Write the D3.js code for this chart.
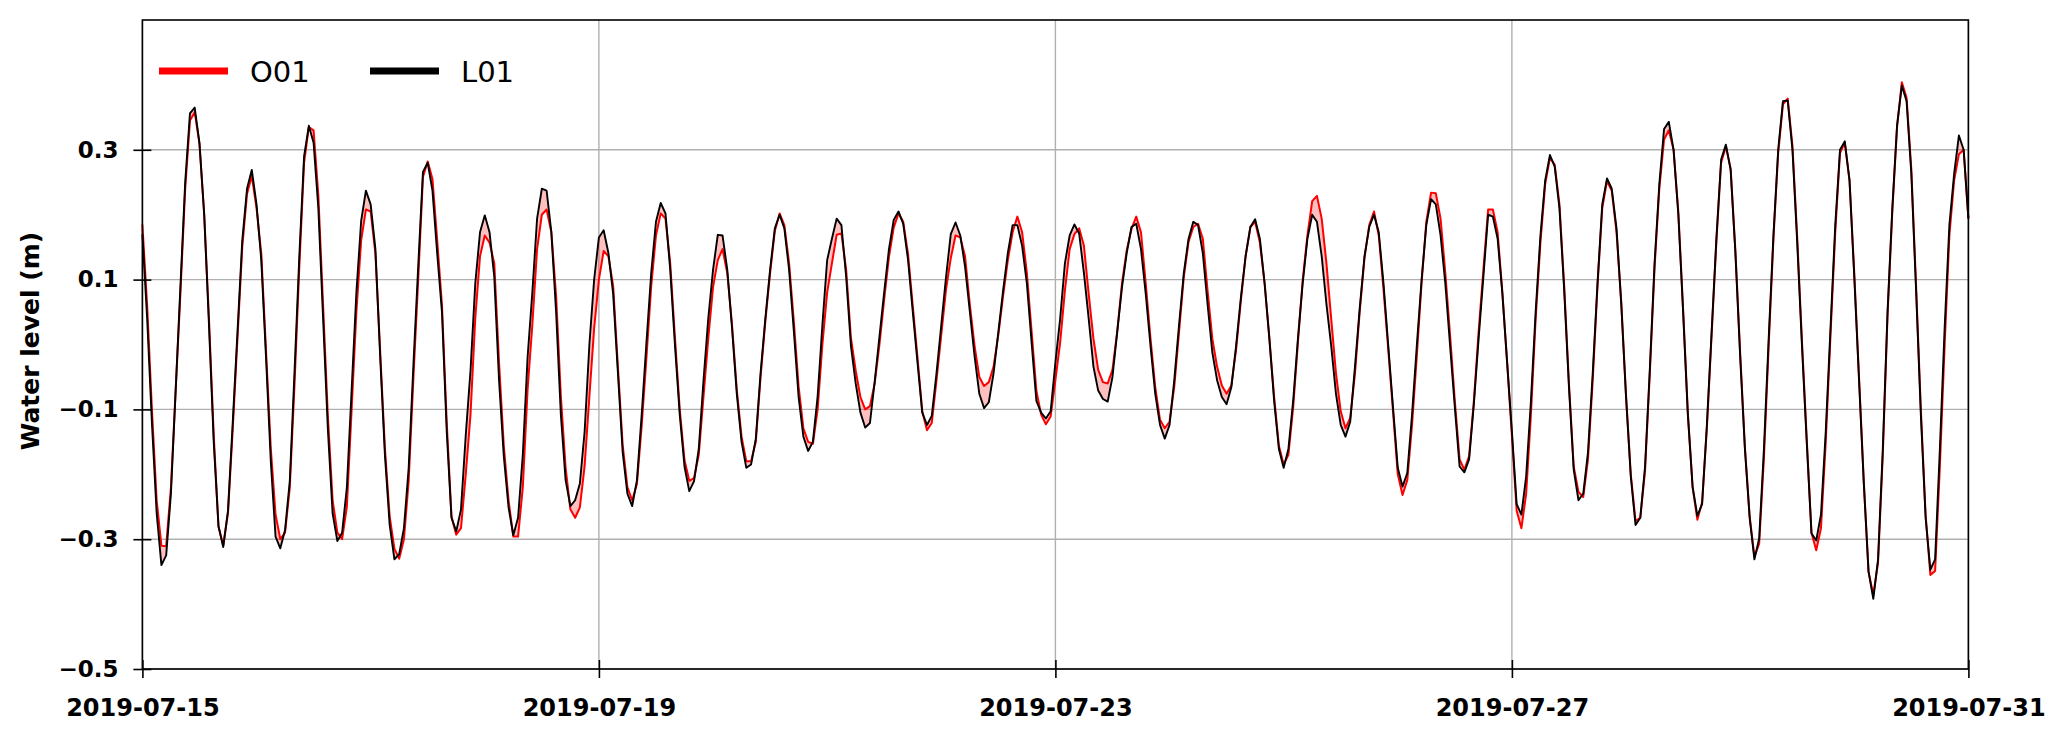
<!DOCTYPE html>
<html>
<head>
<meta charset="utf-8">
<script src="https://cdn.jsdelivr.net/npm/d3@7"></script>
<style>
  body { margin: 0; background: #fff; }
  svg { display: block; }
</style>
</head>
<body>
<svg id="chart"></svg>
<script>
const width = 2067;
const height = 738;
const margin = { top: 20, right: 98.6, bottom: 69, left: 142.4 };

// HOURLY SAMPLES FROM 2019-07-15 00:00 UTC
const startTime = Date.UTC(2019, 6, 15, 0);

const seriesNames = ['O01', 'L01'];
const seriesColors = ['#ff0000', '#000000'];

const o01 = [
  0.185,0.06,-0.10,-0.24,-0.31,-0.311,-0.22,-0.07,0.08,0.24,
  0.345,0.358,0.31,0.20,0.04,-0.14,-0.28,-0.31,-0.26,-0.13,
  0.01,0.15,0.232,0.26,0.21,0.14,-0.01,-0.16,-0.262,-0.30,
  -0.29,-0.22,-0.06,0.12,0.28,0.335,0.33,0.23,0.06,-0.11,
  -0.24,-0.29,-0.30,-0.25,-0.10,0.05,0.16,0.208,0.205,0.14,
  -0.01,-0.16,-0.265,-0.315,-0.33,-0.30,-0.21,-0.05,0.10,0.258,
  0.282,0.255,0.16,0.06,-0.12,-0.265,-0.293,-0.283,-0.20,-0.108,
  0.04,0.136,0.168,0.157,0.125,-0.028,-0.156,-0.24,-0.296,-0.296,
  -0.22,-0.07,0.03,0.147,0.20,0.208,0.173,0.075,-0.08,-0.19,
  -0.254,-0.267,-0.251,-0.187,-0.08,0.025,0.10,0.144,0.136,0.09,
  -0.035,-0.155,-0.22,-0.24,-0.215,-0.125,-0.02,0.09,0.168,0.202,
  0.194,0.125,0.01,-0.10,-0.178,-0.21,-0.206,-0.17,-0.08,0.009,
  0.088,0.13,0.147,0.11,0.03,-0.07,-0.142,-0.18,-0.18,-0.15,
  -0.05,0.035,0.11,0.175,0.202,0.184,0.125,0.035,-0.065,-0.129,
  -0.15,-0.153,-0.10,0.0,0.08,0.125,0.169,0.171,0.115,0.01,
  -0.04,-0.081,-0.10,-0.095,-0.06,0.0,0.07,0.135,0.18,0.202,
  0.189,0.14,0.06,-0.02,-0.103,-0.132,-0.121,-0.055,0.015,0.085,
  0.133,0.168,0.165,0.136,0.062,-0.002,-0.05,-0.064,-0.058,-0.034,
  0.015,0.075,0.13,0.173,0.197,0.173,0.11,0.02,-0.071,-0.108,
  -0.123,-0.111,-0.055,0.003,0.083,0.147,0.17,0.179,0.152,0.078,
  0.009,-0.039,-0.058,-0.06,-0.039,0.02,0.094,0.145,0.178,0.197,
  0.173,0.094,0.009,-0.066,-0.116,-0.129,-0.119,-0.065,0.019,0.104,
  0.158,0.181,0.186,0.163,0.083,0.009,-0.034,-0.063,-0.076,-0.063,
  -0.008,0.067,0.136,0.181,0.189,0.157,0.094,0.009,-0.081,-0.156,
  -0.185,-0.17,-0.097,0.003,0.099,0.168,0.221,0.229,0.194,0.125,
  0.04,-0.044,-0.103,-0.129,-0.113,-0.045,0.051,0.133,0.184,0.205,
  0.168,0.085,-0.008,-0.103,-0.2,-0.232,-0.209,-0.124,-0.018,0.094,
  0.189,0.234,0.233,0.194,0.11,0.014,-0.087,-0.177,-0.193,-0.172,
  -0.087,0.019,0.115,0.208,0.208,0.173,0.08,-0.028,-0.14,-0.256,
  -0.283,-0.23,-0.108,0.04,0.157,0.247,0.288,0.277,0.216,0.09,
  -0.06,-0.188,-0.227,-0.235,-0.177,-0.055,0.09,0.21,0.252,0.237,
  0.173,0.065,-0.078,-0.2,-0.272,-0.267,-0.195,-0.045,0.118,0.24,
  0.316,0.33,0.3,0.205,0.055,-0.105,-0.22,-0.27,-0.243,-0.13,
  0.015,0.158,0.28,0.305,0.271,0.145,-0.012,-0.158,-0.265,-0.327,
  -0.307,-0.175,-0.002,0.163,0.295,0.37,0.379,0.306,0.165,0.005,
  -0.145,-0.29,-0.317,-0.283,-0.15,0.014,0.173,0.295,0.311,0.253,
  0.11,-0.05,-0.21,-0.35,-0.386,-0.336,-0.17,0.045,0.205,0.335,
  0.404,0.38,0.27,0.09,-0.1,-0.262,-0.355,-0.349,-0.188,-0.002,
  0.168,0.253,0.293,0.3,0.194
];

const l01 = [
  0.17,0.04,-0.12,-0.26,-0.34,-0.325,-0.23,-0.07,0.09,0.25,
  0.356,0.365,0.31,0.20,0.03,-0.15,-0.28,-0.312,-0.256,-0.12,
  0.02,0.16,0.24,0.269,0.216,0.13,-0.02,-0.18,-0.296,-0.314,
  -0.286,-0.21,-0.04,0.136,0.29,0.337,0.311,0.21,0.04,-0.13,
  -0.26,-0.303,-0.29,-0.22,-0.07,0.08,0.19,0.237,0.216,0.147,
  -0.018,-0.17,-0.278,-0.331,-0.323,-0.283,-0.19,-0.03,0.12,0.266,
  0.28,0.237,0.14,0.05,-0.134,-0.267,-0.288,-0.254,-0.14,-0.04,
  0.094,0.173,0.199,0.173,0.104,-0.055,-0.172,-0.251,-0.294,-0.267,
  -0.17,-0.02,0.08,0.194,0.24,0.237,0.173,0.05,-0.108,-0.209,
  -0.249,-0.24,-0.214,-0.134,0.0,0.1,0.165,0.176,0.141,0.078,
  -0.044,-0.166,-0.23,-0.249,-0.209,-0.108,0.003,0.11,0.189,0.218,
  0.202,0.115,-0.002,-0.108,-0.188,-0.226,-0.211,-0.161,-0.055,0.04,
  0.115,0.169,0.168,0.115,0.025,-0.076,-0.15,-0.19,-0.185,-0.145,
  -0.044,0.04,0.115,0.179,0.2,0.179,0.115,0.02,-0.081,-0.142,
  -0.164,-0.15,-0.08,0.03,0.13,0.163,0.194,0.184,0.104,-0.002,
  -0.06,-0.105,-0.128,-0.121,-0.057,0.012,0.081,0.147,0.192,0.205,
  0.186,0.131,0.051,-0.028,-0.105,-0.124,-0.11,-0.044,0.03,0.104,
  0.17,0.188,0.168,0.12,0.051,-0.018,-0.076,-0.098,-0.089,-0.044,
  0.019,0.083,0.141,0.184,0.184,0.152,0.094,0.003,-0.087,-0.105,
  -0.114,-0.103,-0.028,0.04,0.125,0.168,0.185,0.171,0.11,0.04,
  -0.034,-0.071,-0.084,-0.088,-0.05,0.019,0.088,0.141,0.181,0.186,
  0.147,0.078,-0.002,-0.076,-0.124,-0.145,-0.124,-0.055,0.03,0.11,
  0.163,0.189,0.184,0.141,0.062,-0.012,-0.055,-0.081,-0.092,-0.066,
  -0.002,0.072,0.136,0.181,0.193,0.163,0.094,0.009,-0.087,-0.161,
  -0.19,-0.161,-0.087,0.009,0.094,0.163,0.2,0.189,0.136,0.062,
  -0.002,-0.076,-0.124,-0.142,-0.119,-0.034,0.056,0.136,0.181,0.2,
  0.173,0.094,-0.002,-0.097,-0.19,-0.219,-0.198,-0.108,-0.002,0.099,
  0.184,0.224,0.216,0.168,0.094,-0.002,-0.097,-0.188,-0.197,-0.177,
  -0.092,0.009,0.104,0.2,0.197,0.163,0.078,-0.028,-0.134,-0.246,
  -0.262,-0.203,-0.087,0.051,0.168,0.253,0.292,0.274,0.21,0.083,
  -0.066,-0.193,-0.24,-0.23,-0.166,-0.044,0.094,0.216,0.256,0.24,
  0.179,0.062,-0.081,-0.203,-0.278,-0.267,-0.188,-0.039,0.125,0.247,
  0.332,0.343,0.3,0.2,0.051,-0.108,-0.219,-0.264,-0.246,-0.124,
  0.019,0.163,0.285,0.308,0.269,0.141,-0.018,-0.161,-0.267,-0.331,
  -0.299,-0.161,0.009,0.168,0.3,0.375,0.376,0.3,0.157,-0.002,
  -0.15,-0.291,-0.302,-0.262,-0.134,0.025,0.184,0.3,0.313,0.253,
  0.104,-0.055,-0.214,-0.35,-0.392,-0.331,-0.161,0.051,0.21,0.338,
  0.399,0.375,0.263,0.083,-0.108,-0.267,-0.347,-0.331,-0.161,0.025,
  0.184,0.263,0.322,0.3,0.194
];

const xTickLabels = ['2019-07-15', '2019-07-19', '2019-07-23', '2019-07-27', '2019-07-31'];
const yTickValues = [-0.5, -0.3, -0.1, 0.1, 0.3];

// BUILD ROWS
const rows = o01.map((v, i) => ({
    t: new Date(startTime + i * 3600 * 1000),
    o: v,
    l: l01[i]
}));

const svg = d3.select('#chart')
    .attr('width', width)
    .attr('height', height);

const x = d3.scaleUtc()
    .domain([new Date(startTime), new Date(Date.UTC(2019, 6, 31, 0))])
    .range([margin.left, width - margin.right]);

const y = d3.scaleLinear()
    .domain([-0.5, 0.5])
    .range([height - margin.bottom, margin.top]);

const xTicks = xTickLabels.map(s => d3.utcParse('%Y-%m-%d')(s));
const font = "'DejaVu Sans', sans-serif";

// GRID
svg.append('g')
    .selectAll('line')
    .data(yTickValues)
    .join('line')
    .attr('x1', margin.left).attr('x2', width - margin.right)
    .attr('y1', d => y(d)).attr('y2', d => y(d))
    .attr('stroke', '#b0b0b0').attr('stroke-width', 1.4);

svg.append('g')
    .selectAll('line')
    .data(xTicks)
    .join('line')
    .attr('x1', d => x(d)).attr('x2', d => x(d))
    .attr('y1', margin.top).attr('y2', height - margin.bottom)
    .attr('stroke', '#b0b0b0').attr('stroke-width', 1.4);

// FILL BETWEEN SERIES
svg.append('path')
    .datum(rows)
    .attr('fill', 'rgba(255,0,0,0.25)')
    .attr('d', d3.area().x(d => x(d.t)).y0(d => y(d.o)).y1(d => y(d.l)));

// LINES
const line = key => d3.line().x(d => x(d.t)).y(d => y(d[key]));

svg.append('path')
    .datum(rows)
    .attr('fill', 'none')
    .attr('stroke', seriesColors[0])
    .attr('stroke-width', 2)
    .attr('stroke-linejoin', 'round')
    .attr('d', line('o'));

svg.append('path')
    .datum(rows)
    .attr('fill', 'none')
    .attr('stroke', seriesColors[1])
    .attr('stroke-width', 1.9)
    .attr('stroke-linejoin', 'round')
    .attr('d', line('l'));

// FRAME
svg.append('rect')
    .attr('x', margin.left)
    .attr('y', margin.top)
    .attr('width', width - margin.left - margin.right)
    .attr('height', height - margin.top - margin.bottom)
    .attr('fill', 'none')
    .attr('stroke', '#000')
    .attr('stroke-width', 1.6);

// AXES (ticks go in and out)
const yAxis = svg.append('g')
    .attr('transform', `translate(${margin.left},0)`)
    .call(d3.axisLeft(y).tickValues(yTickValues).tickFormat(d3.format('.1f')).tickSize(9).tickPadding(15));
yAxis.select('.domain').remove();
yAxis.selectAll('.tick').append('line').attr('x2', 9).attr('stroke', '#000');
yAxis.selectAll('.tick line').attr('stroke-width', 1.6);
yAxis.selectAll('text')
    .attr('font-family', font).attr('font-weight', 'bold').attr('font-size', 23).attr('fill', '#000');

const xAxis = svg.append('g')
    .attr('transform', `translate(0,${height - margin.bottom})`)
    .call(d3.axisBottom(x).tickValues(xTicks).tickFormat(d3.utcFormat('%Y-%m-%d')).tickSize(9).tickPadding(21));
xAxis.select('.domain').remove();
xAxis.selectAll('.tick').append('line').attr('y2', -9).attr('stroke', '#000');
xAxis.selectAll('.tick line').attr('stroke-width', 1.6);
xAxis.selectAll('text')
    .attr('font-family', font).attr('font-weight', 'bold').attr('font-size', 24).attr('fill', '#000');

// Y LABEL
svg.append('text')
    .attr('transform', 'translate(38.5,341) rotate(-90)')
    .attr('text-anchor', 'middle')
    .attr('font-family', font)
    .attr('font-weight', 'bold')
    .attr('font-size', 25)
    .text('Water level (m)');

// LEGEND
const legend = svg.append('g')
    .selectAll('g')
    .data(seriesNames)
    .join('g')
    .attr('transform', (d, i) => `translate(${159 + i * 211},71)`);

legend.append('line')
    .attr('x1', 0).attr('x2', 69)
    .attr('stroke', (d, i) => seriesColors[i])
    .attr('stroke-width', 7);

legend.append('text')
    .attr('x', 91)
    .attr('y', 10.5)
    .attr('font-family', font)
    .attr('font-size', 29)
    .text(d => d);
</script>
</body>
</html>
